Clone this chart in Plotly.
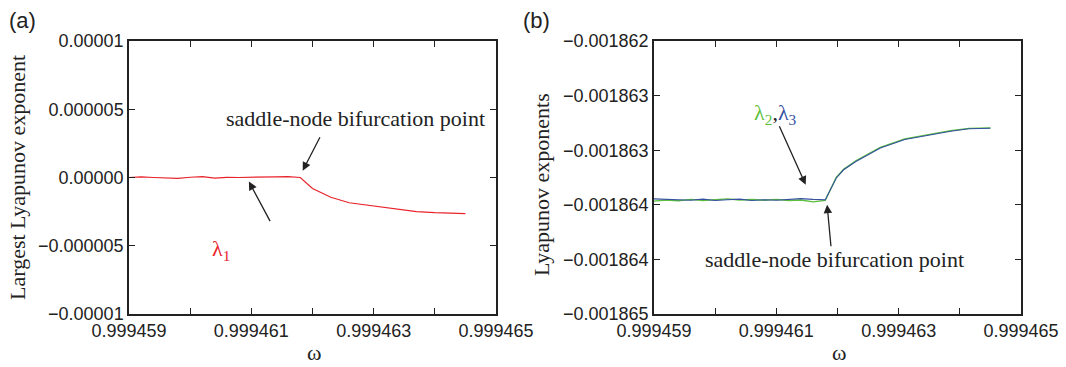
import plotly.graph_objects as go

# ---------------- data ----------------
omega_a = [0.9994590, 0.9994592, 0.9994594, 0.9994596, 0.9994598, 0.9994600,
           0.9994602, 0.9994604, 0.9994606, 0.9994608, 0.9994610, 0.9994612,
           0.9994614, 0.9994616, 0.9994618, 0.9994620, 0.9994623, 0.9994626,
           0.9994630, 0.9994634, 0.9994637, 0.9994640, 0.9994645]
lambda1 = [0.0, 0.04e-6, 0.0, -0.03e-6, -0.06e-6, 0.02e-6,
           0.06e-6, -0.05e-6, 0.01e-6, 0.0, 0.0, 0.0,
           0.05e-6, 0.06e-6, 0.0, -0.80e-6, -1.45e-6, -1.85e-6,
           -2.10e-6, -2.35e-6, -2.50e-6, -2.58e-6, -2.65e-6]

omega_b = [0.9994590, 0.9994592, 0.9994594, 0.9994596, 0.9994598, 0.9994600,
           0.9994602, 0.9994604, 0.9994606, 0.9994608, 0.9994610, 0.9994612,
           0.9994614, 0.9994616, 0.9994618, 0.99946198, 0.9994621, 0.9994623,
           0.9994627, 0.9994631, 0.9994635, 0.99946385, 0.99946415, 0.9994645]
lambda2 = [-0.001863760, -0.001863748, -0.001863755, -0.001863740, -0.001863752, -0.001863745,
           -0.001863735, -0.001863748, -0.001863742, -0.001863750, -0.001863740, -0.001863752,
           -0.001863748, -0.001863768, -0.001863752, -0.001863500, -0.001863410, -0.001863316,
           -0.001863168, -0.001863075, -0.001863023, -0.001862985, -0.001862960, -0.001862955]
lambda3 = [-0.001863735, -0.001863740, -0.001863750, -0.001863750, -0.001863738, -0.001863752,
           -0.001863745, -0.001863738, -0.001863752, -0.001863744, -0.001863750, -0.001863740,
           -0.001863732, -0.001863740, -0.001863744, -0.001863505, -0.001863415, -0.001863325,
           -0.001863175, -0.001863082, -0.001863030, -0.001862991, -0.001862965, -0.001862958]

x_tickvals = [0.999459, 0.999460, 0.999461, 0.999462, 0.999463, 0.999464, 0.999465]
x_ticktext = ["0.999459", "", "0.999461", "", "0.999463", "", "0.999465"]
ya_tickvals = [0.00001, 0.000005, 0.0, -0.000005, -0.00001]
ya_ticktext = ["0.00001", "0.000005", "0.00000", "\u22120.000005", "\u22120.00001"]
yb_tickvals = [-0.001862, -0.0018626, -0.0018632, -0.0018638, -0.0018644, -0.001865]
yb_ticktext = ["\u22120.001862", "\u22120.001863", "\u22120.001863",
               "\u22120.001864", "\u22120.001864", "\u22120.001865"]

RED = "#e8232a"
GREEN = "#5cbf3c"
BLUE = "#34509f"
AXC = "#222222"
SANS = "Liberation Sans, Arial, sans-serif"
SERIF = "Liberation Serif, Times New Roman, serif"

W, H = 1066, 367
fig = go.Figure()
fig.add_trace(go.Scatter(x=omega_a, y=lambda1, mode="lines",
                         line=dict(color=RED, width=1.2), xaxis="x", yaxis="y",
                         showlegend=False))
fig.add_trace(go.Scatter(x=omega_b, y=lambda2, mode="lines",
                         line=dict(color=GREEN, width=1.4), xaxis="x2", yaxis="y2",
                         showlegend=False))
fig.add_trace(go.Scatter(x=omega_b, y=lambda3, mode="lines",
                         line=dict(color=BLUE, width=1.1), xaxis="x2", yaxis="y2",
                         showlegend=False))

def xa(dom, anchor):
    return dict(domain=dom, anchor=anchor, range=[0.999459, 0.999465],
                tickvals=x_tickvals, ticktext=x_ticktext, ticks="inside",
                ticklen=6, tickwidth=1.2, tickcolor=AXC, showline=True,
                linecolor=AXC, linewidth=1.5, mirror="allticks", showgrid=False,
                zeroline=False, automargin=False,
                tickfont=dict(family=SANS, size=18, color=AXC))

def ya(dom, anchor, rng, tv, tt):
    return dict(domain=dom, anchor=anchor, range=rng, tickvals=tv, ticktext=tt,
                ticks="inside", ticklen=6, tickwidth=1.2, tickcolor=AXC,
                showline=True, linecolor=AXC, linewidth=1.5, mirror="allticks",
                showgrid=False, zeroline=False, automargin=False,
                tickfont=dict(family=SANS, size=18, color=AXC))

ydom = [1 - 314 / H, 1 - 41 / H]
fig.update_layout(
    width=W, height=H, margin=dict(l=0, r=0, t=0, b=0, autoexpand=False),
    paper_bgcolor="white", plot_bgcolor="white",
    xaxis=xa([129 / W, 496 / W], "y"),
    yaxis=ya(ydom, "x", [-0.00001, 0.00001], ya_tickvals, ya_ticktext),
    xaxis2=xa([654 / W, 1021 / W], "y2"),
    yaxis2=ya(ydom, "x2", [-0.001865, -0.001862], yb_tickvals, yb_ticktext),
)

ann = []
def ptext(x, y, text, size=22, family=SERIF, angle=0, color=AXC):
    ann.append(dict(x=x / W, y=1 - y / H, xref="paper", yref="paper", text=text,
                    showarrow=False, textangle=angle, xanchor="center",
                    yanchor="middle", font=dict(family=family, size=size, color=color)))

ptext(22, 21, "(a)", size=22, family=SANS)
ptext(536, 21, "(b)", size=22, family=SANS)
ptext(17, 178, "Largest Lyapunov exponent", angle=-90)
ptext(541, 185, "Lyapunov exponents", angle=-90)
ptext(314, 352, "\u03c9")
ptext(839, 352, "\u03c9")

# panel (a) annotations
ann.append(dict(x=0.9994627, y=4.3e-6, xref="x", yref="y",
                text="saddle-node bifurcation point", showarrow=False,
                font=dict(family=SERIF, size=22, color=AXC)))
ann.append(dict(x=omega_a[14] + 0.04e-6, y=0.5e-6, xref="x", yref="y", text="",
                showarrow=True, arrowhead=2, arrowsize=1.3, arrowwidth=1.3,
                arrowcolor=AXC, ax=18, ay=-35))
ann.append(dict(x=0.9994605, y=-5.3e-6, xref="x", yref="y",
                text="\u03bb<sub>1</sub>", showarrow=False,
                font=dict(family=SERIF, size=22, color=RED)))
ann.append(dict(x=0.99946096, y=-0.3e-6, xref="x", yref="y", text="",
                showarrow=True, arrowhead=2, arrowsize=1.3, arrowwidth=1.3,
                arrowcolor=AXC, ax=22, ay=41))

# panel (b) annotations
ann.append(dict(x=0.99946195, y=-0.0018644, xref="x2", yref="y2",
                text="saddle-node bifurcation point", showarrow=False,
                font=dict(family=SERIF, size=22, color=AXC)))
ann.append(dict(x=omega_b[14] + 0.03e-6, y=-0.0018638, xref="x2", yref="y2", text="",
                showarrow=True, arrowhead=2, arrowsize=1.3, arrowwidth=1.3,
                arrowcolor=AXC, ax=4, ay=43))
ann.append(dict(x=0.99946098, y=-0.0018628, xref="x2", yref="y2",
                text="<span style='color:%s'>\u03bb<sub>2</sub></span>,"
                     "<span style='color:%s'>\u03bb<sub>3</sub></span>" % (GREEN, BLUE),
                showarrow=False, font=dict(family=SERIF, size=22, color=AXC)))
ann.append(dict(x=0.99946148, y=-0.00186358, xref="x2", yref="y2", text="",
                showarrow=True, arrowhead=2, arrowsize=1.3, arrowwidth=1.3,
                arrowcolor=AXC, ax=-27, ay=-60))

fig.update_layout(annotations=ann)
fig.write_html("out.html", config={"displayModeBar": False},
               post_script="document.body.style.margin='0';"
                           "document.body.style.overflow='hidden';")
